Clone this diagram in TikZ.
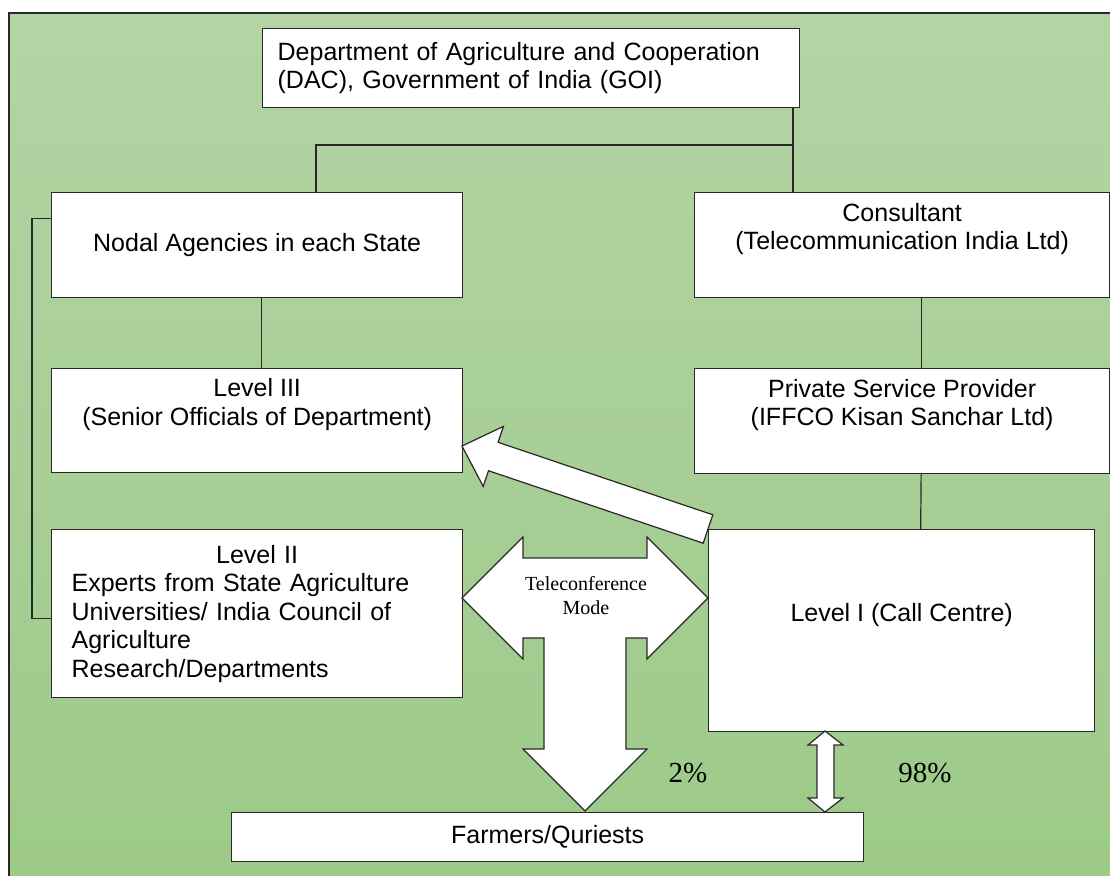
\documentclass[tikz,border=0pt]{standalone}
\usepackage{fontspec}
\setmainfont{Liberation Serif}
\setsansfont{Liberation Sans}
\usepackage{tikz}
\usetikzlibrary{calc}
\definecolor{bgtop}{RGB}{180,212,165}
\definecolor{bgbottom}{RGB}{156,202,136}
\definecolor{edge}{RGB}{40,40,40}
\tikzstyle{unit} = [rectangle, anchor=north west, 
draw=edge, fill=white, line width=1.3pt, 
inner sep=0pt, align=center, 
font=\sffamily\fontsize{25}{28.5}\selectfont]
\tikzstyle{link} = [draw=edge, line width=1.2pt]
\tikzstyle{bigarrow} = [draw=edge, fill=white, line width=1.2pt, line join=miter]
\tikzstyle{share} = [font=\fontsize{29}{34}\selectfont]

\begin{document}
\begin{tikzpicture}[x=1pt, y=-1pt]
			\useasboundingbox (0,0) rectangle (1110,875);
			\clip (0,0) rectangle (1110,875);
			% background and frame
			\shade[top color=bgtop, bottom color=bgbottom] (9,13) rectangle (1120,885);
			\draw[link] (9,885) -- (9,13) -- (1120,13);
			
			\node (dac)[unit, align=left, text width=507pt, inner xsep=15pt, minimum height=79pt] at (262,28) {Department of Agriculture and Cooperation\\(DAC), Government of India (GOI)};
			\node (nodal)[unit, minimum width=411pt, minimum height=105pt] at (51,192) {Nodal Agencies in each State};
			\node (consult)[unit, minimum width=415pt, minimum height=105pt] at (694,192) {Consultant\\(Telecommunication India Ltd)\\\strut};
			\node (lvlthree)[unit, minimum width=411pt, minimum height=104pt] at (51,368) {Level III\\(Senior Officials of Department)\\\strut};
			\node (provider)[unit, minimum width=415pt, minimum height=105pt] at (694,368) {Private Service Provider\\(IFFCO Kisan Sanchar Ltd)\\\strut};
			\node (lvltwo)[unit, align=left, text width=371pt, inner xsep=20pt, minimum height=168pt] at (51,529) {\makebox[371pt]{Level II}\\Experts from State Agriculture\\Universities/ India Council of\\Agriculture\\Research/Departments};
			\node (lvlone)[unit, minimum width=386pt, minimum height=202pt] at (708,529) {Level I (Call Centre)\\\strut};
			\node (farmers)[unit, minimum width=632pt, minimum height=49pt] at (231,812) {Farmers/Quriests};
			
			\coordinate (split) at (793,145);
			\coordinate (splitleft) at (316,145);
			\draw[link] (dac.south -| split) -- (split) -- (splitleft) -- (nodal.north -| splitleft);
			\draw[link] (split) -- (consult.north -| split);
			\draw[link] ([xshift=4.5pt]nodal.south) -- ([xshift=4.5pt]lvlthree.north);
			\draw[link] ([xshift=19pt]consult.south) -- ([xshift=19pt]provider.north);
			\draw[link] ([xshift=19pt]provider.south) -- ([xshift=19pt]lvlone.north);
			\draw[link] ([yshift=26.5pt]nodal.west) -- ++(-19,0) |- ([yshift=-5pt]lvltwo.west);
			
			% block arrows
			\draw[bigarrow] (462,446) -- (503.4,426.4) -- (498.1,442.3) -- (712.8,514.8) -- (703.2,543.2) -- (488.5,470.7) -- (483.2,486.4) -- cycle;
			\draw[bigarrow] (462,598) -- (523,537) -- (523,558) -- (647,558) -- (647,537) -- (708,598) -- (647,659) -- (647,638) -- (626,638) -- (626,749) -- (647,749) -- (585,811) -- (523,749) -- (544,749) -- (544,638) -- (523,638) -- (523,659) -- cycle;
			\draw[bigarrow] (825,731) -- (843,745) -- (834,745) -- (834,798) -- (843,798) -- (825,812) -- (808,798) -- (817,798) -- (817,745) -- (808,745) -- cycle;
			
			\node (mode)[font=\fontsize{20}{24}\selectfont, align=center] at (586,596) {Teleconference\\Mode};
			\node (low)[share] at (688,773) {2\%};
			\node (high)[share] at (925,773) {98\%};
		\end{tikzpicture}
\end{document}
